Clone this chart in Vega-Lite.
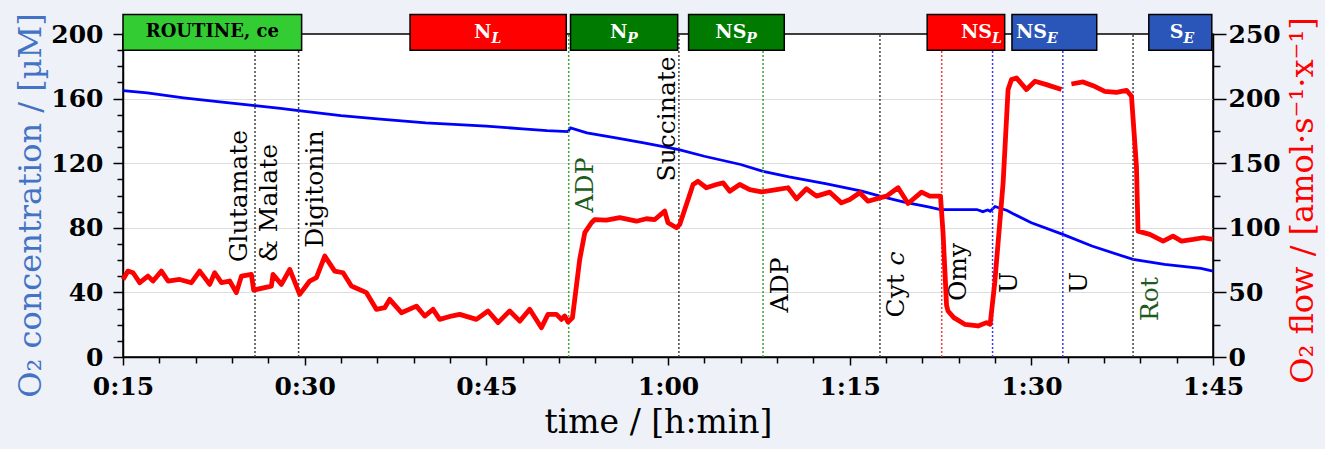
{
  "$schema": "https://vega.github.io/schema/vega-lite/v6.json",
  "width": 1090,
  "height": 323,
  "autosize": {"type": "none"},
  "padding": {"left": 123, "top": 34, "right": 112, "bottom": 92},
  "background": "#eef2f8",
  "config": {
    "view": {"stroke": "black", "strokeWidth": 1.5, "fill": "white"},
    "font": "DejaVu Serif",
    "axis": {
      "labelFont": "DejaVu Serif", "titleFont": "DejaVu Serif",
      "domainColor": "black", "domainWidth": 1.5,
      "tickColor": "black", "tickWidth": 1.5,
      "labelColor": "black", "labelFontWeight": "bold", "labelFontSize": 25,
      "titleFontWeight": "normal", "titleFontSize": 32,
      "labelOverlap": false, "labelFlush": false, "labelBound": false
    }
  },
  "datasets": {
    "o2": [
      {"t": 15, "c": 165}, {"t": 17, "c": 163.5}, {"t": 20, "c": 160.5}, {"t": 23, "c": 158},
      {"t": 25.9, "c": 155.6}, {"t": 28, "c": 154}, {"t": 29.5, "c": 152.6}, {"t": 33, "c": 149.5},
      {"t": 36, "c": 147.5}, {"t": 40, "c": 145}, {"t": 45, "c": 142.9}, {"t": 48, "c": 141.3},
      {"t": 50, "c": 140.2}, {"t": 51.75, "c": 139.6}, {"t": 51.95, "c": 141.9}, {"t": 53.3, "c": 138.8},
      {"t": 55.7, "c": 135.7}, {"t": 58, "c": 132.6}, {"t": 60.9, "c": 128.4}, {"t": 63, "c": 124.3},
      {"t": 66, "c": 119.2}, {"t": 67.85, "c": 115}, {"t": 70, "c": 111.6}, {"t": 73, "c": 107.4},
      {"t": 76, "c": 102.7}, {"t": 77.5, "c": 99.6}, {"t": 79.5, "c": 95.9}, {"t": 81.5, "c": 93},
      {"t": 82.5, "c": 91.3}, {"t": 84, "c": 91.2}, {"t": 85.5, "c": 91.3}, {"t": 86, "c": 90},
      {"t": 86.4, "c": 91}, {"t": 86.6, "c": 90.2}, {"t": 87, "c": 93.2}, {"t": 88, "c": 90.7},
      {"t": 88.5, "c": 88.7}, {"t": 90, "c": 83.1}, {"t": 92.6, "c": 75.9}, {"t": 95, "c": 68.7},
      {"t": 98.4, "c": 60.4}, {"t": 101, "c": 57.3}, {"t": 104, "c": 54.9}, {"t": 105, "c": 53.2}
    ],
    "flux": [
      {"t": 15.0, "f": 60}, {"t": 15.41, "f": 66.5}, {"t": 15.83, "f": 65.2}, {"t": 16.38, "f": 57.5},
      {"t": 17.06, "f": 62.6}, {"t": 17.48, "f": 58.8}, {"t": 18.17, "f": 66.5}, {"t": 18.72, "f": 58.8},
      {"t": 19.68, "f": 60}, {"t": 20.65, "f": 57.5}, {"t": 21.33, "f": 66.5}, {"t": 22.16, "f": 56.2},
      {"t": 22.57, "f": 65.2}, {"t": 23.13, "f": 57.5}, {"t": 23.81, "f": 58.8}, {"t": 24.36, "f": 49.8},
      {"t": 24.78, "f": 62.6}, {"t": 25.6, "f": 63.9}, {"t": 25.79, "f": 51.8}, {"t": 27.25, "f": 54.9},
      {"t": 27.39, "f": 63.9}, {"t": 28.08, "f": 56.2}, {"t": 28.77, "f": 67.8}, {"t": 29.59, "f": 48.5},
      {"t": 30.42, "f": 58.8}, {"t": 30.97, "f": 61.4}, {"t": 31.66, "f": 78.1}, {"t": 32.48, "f": 66.5},
      {"t": 33.17, "f": 65.2}, {"t": 33.86, "f": 54.9}, {"t": 35.1, "f": 49.8}, {"t": 35.92, "f": 36.9},
      {"t": 36.61, "f": 38.2}, {"t": 37.02, "f": 44.6}, {"t": 37.99, "f": 34.3}, {"t": 39.23, "f": 39.4},
      {"t": 39.91, "f": 31.7}, {"t": 40.6, "f": 36.9}, {"t": 41.15, "f": 29.1}, {"t": 42.12, "f": 31.7},
      {"t": 42.8, "f": 33}, {"t": 44.18, "f": 29.1}, {"t": 45.14, "f": 35.6}, {"t": 45.97, "f": 26.6},
      {"t": 46.93, "f": 35.6}, {"t": 47.76, "f": 27.8}, {"t": 48.58, "f": 36.9}, {"t": 49.55, "f": 22.7},
      {"t": 50.09, "f": 33}, {"t": 50.79, "f": 33}, {"t": 51.2, "f": 29.1}, {"t": 51.47, "f": 31.7},
      {"t": 51.75, "f": 27.1}, {"t": 52.11, "f": 30.4}, {"t": 52.71, "f": 75.5}, {"t": 53.13, "f": 96.2},
      {"t": 53.68, "f": 103.9}, {"t": 53.95, "f": 106.4}, {"t": 54.92, "f": 105.9}, {"t": 56.02, "f": 107.8},
      {"t": 57.39, "f": 105.1}, {"t": 58.22, "f": 107}, {"t": 58.91, "f": 106.4}, {"t": 59.73, "f": 112.9},
      {"t": 60.0, "f": 103.9}, {"t": 60.7, "f": 100}, {"t": 60.97, "f": 102.6}, {"t": 62.07, "f": 133.5},
      {"t": 62.48, "f": 136}, {"t": 63.17, "f": 131}, {"t": 64.0, "f": 133.5}, {"t": 64.55, "f": 134.8},
      {"t": 65.1, "f": 128.3}, {"t": 65.92, "f": 133.5}, {"t": 66.75, "f": 129.6}, {"t": 67.72, "f": 127.8},
      {"t": 68.96, "f": 129.6}, {"t": 69.91, "f": 131}, {"t": 70.61, "f": 122.4}, {"t": 71.43, "f": 130.2},
      {"t": 72.26, "f": 124.5}, {"t": 73.36, "f": 127.6}, {"t": 74.32, "f": 119.3}, {"t": 75.01, "f": 121.9},
      {"t": 75.83, "f": 127.1}, {"t": 76.52, "f": 120.6}, {"t": 77.48, "f": 123.2}, {"t": 78.04, "f": 124.5},
      {"t": 79.0, "f": 131}, {"t": 79.82, "f": 118.8}, {"t": 80.93, "f": 127.6}, {"t": 81.61, "f": 124.5},
      {"t": 82.5, "f": 124.5}, {"t": 82.71, "f": 96.2}, {"t": 83.0, "f": 40}, {"t": 83.12, "f": 35.6},
      {"t": 83.6, "f": 30.5}, {"t": 84.5, "f": 25.3}, {"t": 85.6, "f": 24}, {"t": 86.3, "f": 26.6},
      {"t": 86.6, "f": 25.3}, {"t": 86.98, "f": 57.5}, {"t": 87.67, "f": 134.8}, {"t": 88.08, "f": 207},
      {"t": 88.36, "f": 214.7}, {"t": 88.77, "f": 216}, {"t": 89.6, "f": 207}, {"t": 90.3, "f": 213.4},
      {"t": 91.25, "f": 210.8}, {"t": 92.49, "f": 207}, {"t": 92.9, "f": null}, {"t": 93.31, "f": 211.3},
      {"t": 94.27, "f": 212.9}, {"t": 95.1, "f": 210}, {"t": 96.06, "f": 205.6}, {"t": 97.03, "f": 204.9},
      {"t": 97.86, "f": 206.4}, {"t": 98.27, "f": 201.8}, {"t": 98.68, "f": 147.6}, {"t": 98.81, "f": 97.4},
      {"t": 99.78, "f": 94.9}, {"t": 100.88, "f": 89.7}, {"t": 101.7, "f": 93.5}, {"t": 102.4, "f": 89.7},
      {"t": 103.36, "f": 91}, {"t": 104.18, "f": 92.3}, {"t": 105.0, "f": 91}
    ],
    "states": [
      {"t0": 15, "t1": 29.75, "state": "ROUTINE", "main": "ROUTINE, ce", "sub": "", "mode": "ROUTINE"},
      {"t0": 38.7, "t1": 51.6, "state": "NL", "main": "N", "sub": "L", "mode": "LEAK"},
      {"t0": 51.95, "t1": 60.8, "state": "NP", "main": "N", "sub": "P", "mode": "OXPHOS"},
      {"t0": 61.7, "t1": 69.6, "state": "NSP", "main": "NS", "sub": "P", "mode": "OXPHOS"},
      {"t0": 81.4, "t1": 87.8, "state": "NSL", "main": "NS", "sub": "L", "mode": "LEAK"},
      {"t0": 88.4, "t1": 95.4, "state": "NSE", "main": "NS", "sub": "E", "mode": "ET"},
      {"t0": 99.7, "t1": 104.9, "state": "SE", "main": "S", "sub": "E", "mode": "ET"}
    ],
    "events": [
      {"t": 25.9, "label": "Glutamate\n& Malate", "at": 58.6},
      {"t": 29.5, "label": "Digitonin", "at": 67.6},
      {"t": 51.8, "label": "ADP", "at": 89.5},
      {"t": 60.9, "label": "Succinate", "at": 108.7},
      {"t": 67.85, "label": "ADP", "at": 27.6},
      {"t": 77.5, "label": "Cyt", "suffix": "c", "at": 24.5},
      {"t": 82.6, "label": "Omy", "at": 34.6},
      {"t": 86.8, "label": "U", "at": 39.7},
      {"t": 92.6, "label": "U", "at": 39.7},
      {"t": 98.4, "label": "Rot", "at": 22.3}
    ]
  },
  "resolve": {"scale": {"y": "independent"}, "axis": {"x": "independent"}},
  "layer": [
    {
      "data": {"name": "o2"},
      "mark": {"type": "line", "color": "#0000ff", "strokeWidth": 2.8},
      "encoding": {
        "x": {
          "field": "t", "type": "quantitative",
          "scale": {"domain": [15, 105], "nice": false},
          "axis": {
            "orient": "bottom",
            "title": "time / [h:min]",
            "titleFontSize": 33,
            "titleX": 535,
            "values": [15, 30, 45, 60, 75, 90, 105],
            "labelExpr": "floor(datum.value / 60) + ':' + (datum.value % 60 < 10 ? '0' : '') + (datum.value % 60)",
            "labelOverlap": false,
            "tickSize": 8,
            "labelPadding": 9,
            "titlePadding": 7,
            "grid": false
          }
        },
        "y": {
          "field": "c", "type": "quantitative",
          "scale": {"domain": [0, 200], "nice": false},
          "axis": {
            "orient": "left",
            "title": "O₂ concentration / [µM]",
            "titleColor": "#4472c4",
            "titleY": 171,
            "values": [0, 10, 20, 30, 40, 50, 60, 70, 80, 90, 100, 110, 120, 130, 140, 150, 160, 170, 180, 190, 200],
            "labelExpr": "datum.value % 40 === 0 ? datum.value : ''",
            "tickSize": {"condition": {"test": "datum.value % 40 === 0", "value": 10}, "value": 6},
            "labelPadding": 10,
            "titlePadding": 3,
            "grid": true,
            "gridColor": "#dddddd",
            "gridWidth": 1,
            "gridOpacity": {"condition": {"test": "datum.value % 40 === 0 && datum.value > 0 && datum.value < 200", "value": 1}, "value": 0}
          }
        }
      }
    },
    {
      "data": {"name": "events"},
      "mark": {"type": "rule", "strokeDash": [2, 2], "strokeWidth": 1.5},
      "encoding": {
        "x": {
          "field": "t", "type": "quantitative", "scale": {"domain": [15, 105], "nice": false},
          "axis": {
            "orient": "bottom",
            "title": null,
            "labels": false,
            "domain": false,
            "grid": false,
            "tickSize": 6,
            "values": [18, 21, 24, 27, 33, 36, 39, 42, 48, 51, 54, 57, 63, 66, 69, 72, 78, 81, 84, 87, 93, 96, 99, 102]
          }
        },
        "y": {"datum": 0, "type": "quantitative", "scale": {"domain": [0, 200], "nice": false}, "axis": null},
        "y2": {"datum": 200},
        "color": {
          "condition": [
            {"test": "datum.label === 'ADP'", "value": "#3aa63a"},
            {"test": "datum.label === 'Omy'", "value": "#f04040"},
            {"test": "datum.label === 'U'", "value": "#3a3aff"}
          ],
          "value": "#444444"
        }
      }
    },
    {
      "data": {"name": "states"},
      "mark": {"type": "rect", "stroke": "black", "strokeWidth": 1.5},
      "encoding": {
        "x": {"field": "t0", "type": "quantitative", "scale": {"domain": [15, 105], "nice": false}, "axis": null},
        "x2": {"field": "t1"},
        "y": {"datum": 190, "type": "quantitative", "scale": {"domain": [0, 200], "nice": false}, "axis": null},
        "y2": {"datum": 212},
        "fill": {
          "field": "mode", "type": "nominal",
          "scale": {"domain": ["ROUTINE", "LEAK", "OXPHOS", "ET"], "range": ["#33cc33", "#ff0000", "#007a00", "#2b56b9"]},
          "legend": null
        }
      }
    },
    {
      "data": {"name": "states"},
      "transform": [
        {"filter": "datum.sub !== ''"},
        {"calculate": "datum.state === 'NSL' ? datum.t1 - 1.05 : datum.state === 'NSE' ? datum.t0 + 2.9 : (datum.t0 + datum.t1) / 2 + length(datum.main) * 0.55 - 0.28", "as": "lx"}
      ],
      "mark": {"type": "text", "align": "right", "baseline": "middle", "fontWeight": "bold", "fontSize": 19, "color": "white"},
      "encoding": {
        "x": {"field": "lx", "type": "quantitative", "scale": {"domain": [15, 105], "nice": false}, "axis": null},
        "y": {"datum": 201, "type": "quantitative", "scale": {"domain": [0, 200], "nice": false}, "axis": null},
        "text": {"field": "main"}
      }
    },
    {
      "data": {"name": "states"},
      "transform": [
        {"filter": "datum.sub !== ''"},
        {"calculate": "datum.state === 'NSL' ? datum.t1 - 1.05 : datum.state === 'NSE' ? datum.t0 + 2.9 : (datum.t0 + datum.t1) / 2 + length(datum.main) * 0.55 - 0.28", "as": "lx"}
      ],
      "mark": {"type": "text", "align": "left", "baseline": "middle", "dy": 7, "fontWeight": "bold", "fontStyle": "italic", "fontSize": 14, "color": "white"},
      "encoding": {
        "x": {"field": "lx", "type": "quantitative", "scale": {"domain": [15, 105], "nice": false}, "axis": null},
        "y": {"datum": 201, "type": "quantitative", "scale": {"domain": [0, 200], "nice": false}, "axis": null},
        "text": {"field": "sub"}
      }
    },
    {
      "data": {"name": "states"},
      "transform": [
        {"filter": "datum.sub === ''"},
        {"calculate": "(datum.t0 + datum.t1) / 2", "as": "lx"}
      ],
      "mark": {"type": "text", "align": "center", "baseline": "middle", "fontWeight": "bold", "fontSize": 18, "color": "black"},
      "encoding": {
        "x": {"field": "lx", "type": "quantitative", "scale": {"domain": [15, 105], "nice": false}, "axis": null},
        "y": {"datum": 201, "type": "quantitative", "scale": {"domain": [0, 200], "nice": false}, "axis": null},
        "text": {"field": "main"}
      }
    },
    {
      "data": {"name": "events"},
      "transform": [{"filter": "indexof(datum.label, 'Glutamate') === 0"}],
      "mark": {"type": "text", "angle": 270, "align": "left", "baseline": "middle", "dy": -16, "fontSize": 25, "lineHeight": 30, "lineBreak": "\n", "color": "black"},
      "encoding": {
        "x": {"field": "t", "type": "quantitative", "scale": {"domain": [15, 105], "nice": false}, "axis": null},
        "y": {"field": "at", "type": "quantitative", "scale": {"domain": [0, 200], "nice": false}, "axis": null},
        "text": {"field": "label"}
      }
    },
    {
      "data": {"name": "events"},
      "transform": [{"filter": "datum.label !== 'Succinate' && indexof(datum.label, 'Glutamate') < 0"}],
      "mark": {"type": "text", "angle": 270, "align": "left", "baseline": "top", "dy": 4.5, "fontSize": 25},
      "encoding": {
        "x": {"field": "t", "type": "quantitative", "scale": {"domain": [15, 105], "nice": false}, "axis": null},
        "y": {"field": "at", "type": "quantitative", "scale": {"domain": [0, 200], "nice": false}, "axis": null},
        "text": {"field": "label"},
        "color": {
          "condition": {"test": "datum.label === 'Rot' || (datum.label === 'ADP' && datum.t < 60)", "value": "#1d5c1d"},
          "value": "black"
        }
      }
    },
    {
      "data": {"name": "events"},
      "transform": [{"filter": "datum.suffix"}],
      "mark": {"type": "text", "angle": 270, "align": "left", "baseline": "top", "dy": 4.5, "dx": 52, "fontSize": 25, "fontStyle": "italic", "color": "black"},
      "encoding": {
        "x": {"field": "t", "type": "quantitative", "scale": {"domain": [15, 105], "nice": false}, "axis": null},
        "y": {"field": "at", "type": "quantitative", "scale": {"domain": [0, 200], "nice": false}, "axis": null},
        "text": {"field": "suffix"}
      }
    },
    {
      "data": {"name": "events"},
      "transform": [{"filter": "datum.label === 'Succinate'"}],
      "mark": {"type": "text", "angle": 270, "align": "left", "baseline": "alphabetic", "dy": -3.5, "fontSize": 25, "color": "black"},
      "encoding": {
        "x": {"field": "t", "type": "quantitative", "scale": {"domain": [15, 105], "nice": false}, "axis": null},
        "y": {"field": "at", "type": "quantitative", "scale": {"domain": [0, 200], "nice": false}, "axis": null},
        "text": {"field": "label"}
      }
    },
    {
      "data": {"name": "flux"},
      "mark": {"type": "line", "color": "#ff0000", "strokeWidth": 4.8, "strokeJoin": "round", "invalid": "break-paths-show-domains"},
      "encoding": {
        "x": {"field": "t", "type": "quantitative", "scale": {"domain": [15, 105], "nice": false}, "axis": null},
        "y": {
          "field": "f", "type": "quantitative",
          "scale": {"domain": [0, 250], "nice": false},
          "axis": {
            "orient": "right",
            "title": "O₂ flow / [amol·s⁻¹·x⁻¹]",
            "titleColor": "#ff0000",
            "titleAngle": 270,
            "titleBaseline": "top",
            "titleY": 166,
            "values": [0, 25, 50, 75, 100, 125, 150, 175, 200, 225, 250],
            "labelExpr": "datum.value % 50 === 0 ? datum.value : ''",
            "tickSize": {"condition": {"test": "datum.value % 50 === 0", "value": 13}, "value": 7},
            "labelPadding": 2,
            "titlePadding": 7,
            "grid": false
          }
        }
      }
    }
  ]
}
